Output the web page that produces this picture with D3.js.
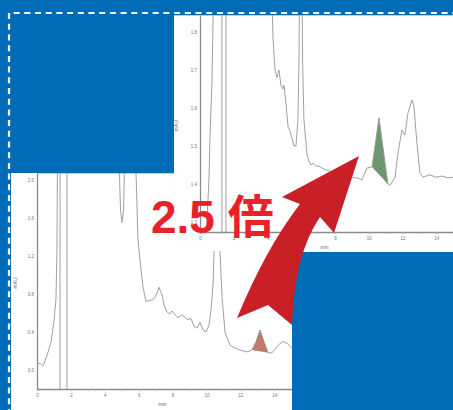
<!DOCTYPE html>
<html>
<head>
<meta charset="utf-8">
<script src="https://cdnjs.cloudflare.com/ajax/libs/d3/7.8.5/d3.min.js"></script>
<style>
  body { margin: 0; background: #006cb7; }
  svg { display: block; }
</style>
</head>
<body>
<div id="chart"></div>
<script>
////////////////////////////////////////////////////////////////////////////////
// Data
////////////////////////////////////////////////////////////////////////////////
var xTickValues = [0, 1, 2, 3, 4, 5, 6, 7, 8, 9, 10, 11, 12, 13, 14, 15];
var xTickLabels = [0, 2, 4, 6, 8, 10, 12, 14];
var lowerYTicks = [0.0, 0.4, 0.8, 1.2, 1.6, 2.0];
var insetYTicks = [1.3, 1.4, 1.5, 1.6, 1.7, 1.8];

// lower (full scale) trace, values above/below the frame are off-scale
var lowerTime = [0, 0.18, 0.35, 0.59, 0.83, 1.0, 1.12, 1.18, 1.21, 1.36, 1.36, 1.77, 1.77,
  4.81, 4.93, 5.02, 5.11, 5.19, 5.79, 5.96, 6.14, 6.26, 6.43, 6.67, 6.85, 7.02, 7.20,
  7.38, 7.50, 7.67, 7.85, 7.97, 8.15, 8.32, 8.56, 8.74, 8.91, 9.09, 9.27, 9.45, 9.62,
  9.80, 9.98, 10.15, 10.27, 10.39, 10.45, 10.55, 10.75, 10.80, 10.92, 11.10, 11.39,
  11.69, 11.98, 12.40, 12.69, 12.93, 13.16, 13.40, 13.64, 13.87, 14.23, 14.52, 14.76, 15.05];
var lowerAbs = [0.06, 0.07, 0.04, 0.15, 0.30, 0.51, 0.74, 1.26, 2.4, 2.4, -0.4, -0.4, 2.4,
  2.4, 1.68, 1.55, 1.68, 2.4, 2.4, 1.37, 1.05, 0.87, 0.72, 0.73, 0.74, 0.78, 0.87,
  0.79, 0.68, 0.61, 0.59, 0.62, 0.58, 0.55, 0.58, 0.55, 0.53, 0.54, 0.46, 0.44, 0.50,
  0.42, 0.40, 0.47, 0.63, 0.90, 1.24, 2.4, 2.4, 1.24, 0.77, 0.39, 0.26,
  0.23, 0.21, 0.19, 0.21, 0.30, 0.42, 0.30, 0.18, 0.18, 0.26, 0.30, 0.28, 0.23];

// inset (expanded scale) trace
var insetTime = [0.30, 0.41, 0.53, 0.59, 0.71, 0.80, 1.30, 1.30, 1.54, 1.54, 4.27, 4.33,
  4.45, 4.56, 4.68, 4.80, 4.92, 4.98, 5.10, 5.22, 5.33, 5.45, 5.57, 5.69, 5.81, 5.87,
  5.90, 6.05, 6.08, 6.16, 6.34, 6.46, 6.58, 6.70, 6.88, 7.05, 7.23, 7.47, 7.88, 8.30,
  8.65, 8.89, 9.31, 9.60, 9.90, 10.20, 10.61, 11.14, 11.26, 11.56, 11.74, 11.97, 12.15,
  12.33, 12.57, 12.69, 12.86, 13.04, 13.22, 13.63, 13.99, 14.35, 14.70, 15.00];
var insetAbs = [1.20, 1.30, 1.41, 1.52, 1.67, 1.90, 1.90, 1.20, 1.20, 1.90, 1.90, 1.78,
  1.70, 1.68, 1.70, 1.66, 1.65, 1.66, 1.61, 1.55, 1.54, 1.52, 1.50, 1.50, 1.57, 1.73,
  1.90, 1.90, 1.73, 1.57, 1.48, 1.46, 1.45, 1.455, 1.447, 1.447, 1.442, 1.437, 1.432, 1.421,
  1.411, 1.418, 1.416, 1.411, 1.442, 1.445, 1.574, 1.400, 1.397, 1.416, 1.482, 1.542, 1.529,
  1.587, 1.621, 1.603, 1.508, 1.429, 1.418, 1.424, 1.418, 1.421, 1.416, 1.418];

// shaded peaks: start / end time
var lowerPeak = [12.69, 13.64];
var insetPeak = [10.20, 11.14];
var ratioText = "2.5 倍";

////////////////////////////////////////////////////////////////////////////////
// Constructor
////////////////////////////////////////////////////////////////////////////////
function Chromatogram(svg, id, x0, x1, y0, y1, tMax, vMin, vMax) {
   this.svg = svg;
   this.id = id;
   this.x = d3.scaleLinear().domain([0, tMax]).range([x0, x1]);
   this.y = d3.scaleLinear().domain([vMin, vMax]).range([y1, y0]);
   this.widget = null;
}

Chromatogram.prototype.init = function(bg) {
   this.widget = this.svg.append("g").attr("id", this.id);
   if (bg) {
      this.widget.append("rect")
         .attr("x", bg[0]).attr("y", bg[1])
         .attr("width", bg[2]).attr("height", bg[3])
         .attr("fill", "white");
   }
   var r = this.x.range(), ry = this.y.range();
   this.widget.append("clipPath").attr("id", this.id + "-clip")
      .append("rect")
      .attr("x", r[0]).attr("y", ry[1])
      .attr("width", r[1] - r[0]).attr("height", ry[0] - ry[1]);
}

////////////////////////////////////////////////////////////////////////////////
// Render axes, shaded peak and trace
////////////////////////////////////////////////////////////////////////////////
Chromatogram.prototype.render = function(times, values, yTicks, peak, peakColor, frameX, titleX) {
   var ref = this;
   var pts = times.map(function(t, i) { return [t, values[i]]; });
   var r = this.x.range(), ry = this.y.range();

   // top frame line
   this.widget.append("line")
      .attr("x1", frameX).attr("x2", r[1])
      .attr("y1", ry[1]).attr("y2", ry[1])
      .attr("stroke", "#9a9a9a").attr("stroke-width", 1.2);

   var gx = this.widget.append("g")
      .attr("transform", "translate(0," + ry[0] + ")")
      .call(d3.axisBottom(this.x).tickValues(xTickValues).tickSize(2).tickPadding(3)
         .tickFormat(function(d) { return xTickLabels.indexOf(d) >= 0 ? d : ""; }));
   var gy = this.widget.append("g")
      .attr("transform", "translate(" + r[0] + ",0)")
      .call(d3.axisLeft(this.y).tickValues(yTicks).tickSize(0).tickPadding(3)
         .tickFormat(d3.format(".1f")));
   [gx, gy].forEach(function(g) {
      g.select(".domain").attr("stroke", "#8a8a8a").attr("stroke-width", 1.3);
      g.selectAll(".tick line").attr("stroke", "#aaa");
      g.selectAll("text").attr("font-size", "4.5px").attr("fill", "#777")
         .attr("font-family", "Liberation Sans, sans-serif");
   });

   // axis titles
   this.widget.append("text")
      .attr("x", (r[0] + r[1]) / 2 - 2).attr("y", ry[0] + 17)
      .attr("text-anchor", "middle").attr("font-size", "5px").attr("fill", "#666")
      .attr("font-family", "Liberation Sans, sans-serif")
      .text("min");
   this.widget.append("text")
      .attr("transform", "translate(" + titleX + "," + ((ry[0] + ry[1]) / 2 + 2) + ") rotate(-90)")
      .attr("text-anchor", "middle").attr("font-size", "5px").attr("fill", "#666")
      .attr("font-family", "Liberation Sans, sans-serif")
      .text("mAU");

   var line = d3.line()
      .x(function(d) { return ref.x(d[0]); })
      .y(function(d) { return ref.y(d[1]); });

   var plot = this.widget.append("g").attr("clip-path", "url(#" + this.id + "-clip)");

   // shaded peak: trace segment closed by a straight drop line
   var peakPts = pts.filter(function(d) { return d[0] >= peak[0] - 1e-6 && d[0] <= peak[1] + 1e-6; });
   plot.append("path")
      .attr("d", line(peakPts) + "Z")
      .attr("fill", peakColor);

   plot.append("path")
      .datum(pts)
      .attr("d", line)
      .attr("fill", "none")
      .attr("stroke", "#959595")
      .attr("stroke-width", 0.9)
      .attr("stroke-linejoin", "round");
}

////////////////////////////////////////////////////////////////////////////////
// Page
////////////////////////////////////////////////////////////////////////////////
var W = 453, H = 410;
var svg = d3.select("#chart").append("svg").attr("width", W).attr("height", H);

svg.append("rect").attr("width", W).attr("height", H).attr("fill", "#006cb7");
svg.append("rect").attr("x", 11).attr("y", 15).attr("width", W - 11).attr("height", H - 15)
   .attr("fill", "white");

var lower = new Chromatogram(svg, "lower", 37, 292, 173, 389, 15.05, -0.2, 2.07);
lower.init(null);
lower.render(lowerTime, lowerAbs, lowerYTicks, lowerPeak, "#be7a6a", 37, 17);

var inset = new Chromatogram(svg, "inset", 200, 453, 15, 232, 15.0, 1.2737, 1.8447);
inset.init([174, 15, W - 174, 236]);
inset.render(insetTime, insetAbs, insetYTicks, insetPeak, "#6f976f", 174, 178);

// blue cover panels
svg.append("rect").attr("x", 0).attr("y", 0).attr("width", 174).attr("height", 173).attr("fill", "#006cb7");
svg.append("rect").attr("x", 292).attr("y", 252).attr("width", W - 292).attr("height", H - 252).attr("fill", "#006cb7");
svg.append("rect").attr("x", 0).attr("y", 0).attr("width", W).attr("height", 15).attr("fill", "#006cb7");

// dashed border
svg.append("path")
   .attr("d", "M9," + (H + 5) + "V13H" + (W + 5))
   .attr("fill", "none").attr("stroke", "white")
   .attr("stroke-width", 2.2).attr("stroke-dasharray", "6,4.7");

// curved arrow
svg.append("path")
   .attr("d", "M359,156 L334,233 L320,217 Q294,255 292,325 L268,305 L237,318 Q266,248 300,204 L282,197 Z")
   .attr("fill", "#c91f27");

svg.append("text")
   .attr("x", 151).attr("y", 233)
   .attr("font-family", "Liberation Sans, Noto Sans CJK JP, sans-serif")
   .attr("font-weight", "bold").attr("font-size", "46px")
   .attr("fill", "#e8212b")
   .text(ratioText);
</script>
</body>
</html>
